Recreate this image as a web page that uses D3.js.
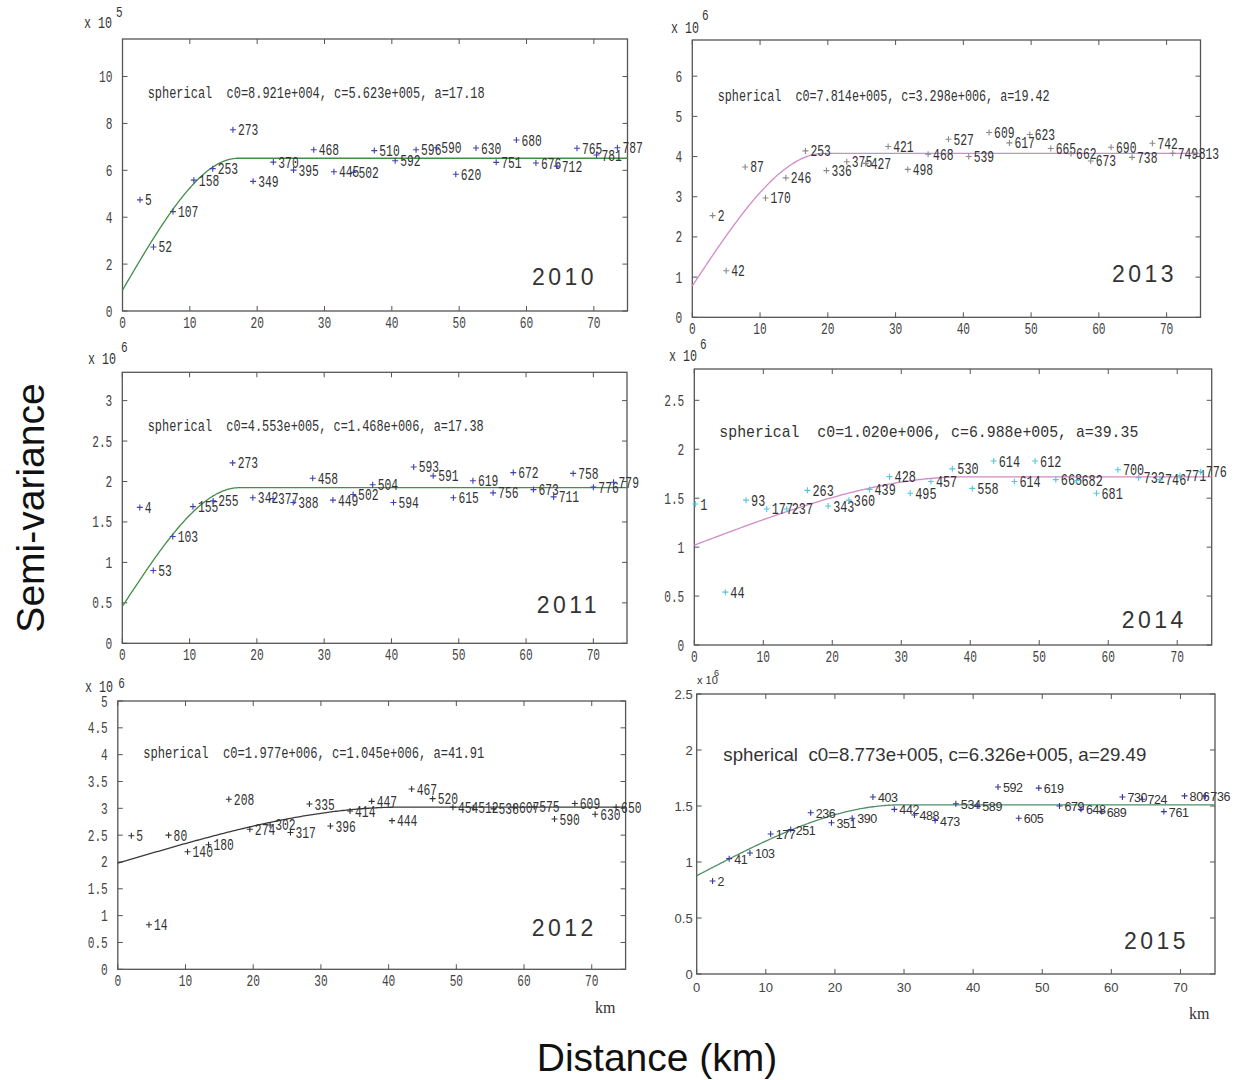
<!DOCTYPE html>
<html>
<head>
<meta charset="utf-8">
<script src="https://cdn.jsdelivr.net/npm/d3@7"></script>
<style>
  body { margin: 0; background: #fff; }
  text { white-space: pre; }
</style>
</head>
<body>
<svg id="chart" width="1241" height="1080"></svg>
<script>
// lag distance (km), semi-variance (in units of the panel's 10^n) and pair counts
var dist2010  = [2.6,4.6,7.5,10.6,13.4,16.4,19.4,22.4,25.4,28.4,31.4,34.3,37.4,40.5,43.6,46.6,49.5,52.5,55.5,58.5,61.4,64.5,67.5,70.4,73.5];
var gamma2010 = [4.74,2.73,4.24,5.58,6.07,7.73,5.53,6.35,6.01,6.88,5.94,5.91,6.84,6.41,6.88,6.96,5.83,6.95,6.34,7.29,6.31,6.18,6.94,6.65,6.96];
var pairs2010 = [5,52,107,158,253,273,349,370,395,468,445,502,510,592,596,590,620,630,751,680,676,712,765,781,787];

var dist2013  = [3.0,5.0,7.8,10.8,13.8,16.7,19.8,22.8,25.6,28.9,31.8,34.8,37.8,40.8,43.8,46.8,49.8,52.9,55.9,58.8,61.8,64.9,67.9,70.9,74.0];
var gamma2013 = [2.53,1.16,3.74,2.97,3.47,4.14,3.65,3.87,3.83,4.25,3.68,4.06,4.43,4.0,4.6,4.34,4.55,4.2,4.07,3.89,4.23,3.98,4.33,4.08,4.08];
var pairs2013 = [2,42,87,170,246,253,336,375,427,421,498,468,527,539,609,617,623,665,662,673,690,738,742,749,813];

var dist2011  = [2.6,4.6,7.5,10.5,13.5,16.4,19.4,22.4,25.4,28.3,31.3,34.3,37.2,40.3,43.3,46.2,49.2,52.1,55.1,58.1,61.1,64.1,67.0,70.0,73.0];
var gamma2011 = [1.68,0.90,1.32,1.69,1.76,2.23,1.80,1.79,1.74,2.04,1.77,1.84,1.96,1.74,2.18,2.07,1.80,2.01,1.86,2.11,1.90,1.81,2.10,1.93,1.99];
var pairs2011 = [4,53,103,155,255,273,342,377,388,458,449,502,504,594,593,591,615,619,756,672,673,711,758,776,779];

var dist2014  = [0.15,4.5,7.5,10.5,13.4,16.4,19.4,22.4,25.4,28.3,31.3,34.3,37.4,40.3,43.4,46.4,49.4,52.4,55.4,58.3,61.4,64.4,67.5,70.4,73.4];
var gamma2014 = [1.44,0.54,1.48,1.39,1.39,1.58,1.42,1.48,1.59,1.72,1.55,1.67,1.80,1.60,1.88,1.67,1.88,1.69,1.68,1.55,1.79,1.71,1.69,1.73,1.77];
var pairs2014 = [1,44,93,177,237,263,343,360,439,428,495,457,530,558,614,614,612,668,682,681,700,732,746,771,776];

var dist2012  = [2.0,4.6,7.5,10.3,13.4,16.4,19.5,22.5,25.5,28.3,31.4,34.3,37.5,40.5,43.4,46.5,49.5,52.5,55.5,58.5,61.5,64.5,67.5,70.5,73.6];
var gamma2012 = [2.49,0.83,2.50,2.19,2.32,3.17,2.61,2.69,2.55,3.08,2.67,2.95,3.13,2.77,3.36,3.18,3.02,3.01,2.99,3.01,3.03,2.80,3.09,2.89,3.02];
var pairs2012 = [5,14,80,140,180,208,274,302,317,335,396,414,447,444,467,520,454,512,538,607,575,590,609,630,650];

var dist2015  = [2.3,4.7,7.7,10.7,13.6,16.5,19.5,22.5,25.5,28.6,31.5,34.5,37.5,40.6,43.6,46.6,49.5,52.5,55.6,58.6,61.6,64.5,67.6,70.6,73.6];
var gamma2015 = [0.83,1.03,1.08,1.25,1.29,1.44,1.35,1.39,1.58,1.47,1.42,1.37,1.52,1.50,1.67,1.39,1.66,1.50,1.47,1.45,1.58,1.56,1.45,1.59,1.59];
var pairs2015 = [2,41,103,177,251,236,351,390,403,442,488,473,534,589,592,605,619,679,648,689,730,724,761,806,736];

// fitted spherical models, panel order: 2010, 2013, 2011, 2014, 2012, 2015
var years    = ["2010","2013","2011","2014","2012","2015"];
var nugget   = [8.921e4, 7.814e5, 4.553e5, 1.020e6, 1.977e6, 8.773e5];
var psill    = [5.623e5, 3.298e6, 1.468e6, 6.988e5, 1.045e6, 6.326e5];
var ranges   = [17.18, 19.42, 17.38, 39.35, 41.91, 29.49];
var expo     = [5, 6, 6, 6, 6, 6];
var xTicks   = [0,10,20,30,40,50,60,70];
var yTicks   = [[0,2,4,6,8,10],[0,1,2,3,4,5,6],[0,0.5,1,1.5,2,2.5,3],[0,0.5,1,1.5,2,2.5],
                [0,0.5,1,1.5,2,2.5,3,3.5,4,4.5,5],[0,0.5,1,1.5,2,2.5]];
var yMax     = [11.6, 6.9, 3.35, 2.82, 5, 2.5];

var dists  = [dist2010, dist2013, dist2011, dist2014, dist2012, dist2015];
var gammas = [gamma2010, gamma2013, gamma2011, gamma2014, gamma2012, gamma2015];
var pairs  = [pairs2010, pairs2013, pairs2011, pairs2014, pairs2012, pairs2015];

var MONO = "'Liberation Mono', 'DejaVu Sans Mono', monospace";
var SANS = "'Liberation Sans', Arial, sans-serif";

// layout of each panel (box = left, top, right, bottom)
var layout = [
  {box:[122.5,39,627.5,311],   pt:"#4040b4", line:"#3f8f47", font:MONO, year:[532,285],    model:[147.7,98.3,337], exp:[84,28.3,116,17]},
  {box:[692.3,40,1200.5,317.3],pt:"#8a8a8a", line:"#d38ac6", font:MONO, year:[1112,282],   model:[717.7,100.7,332], exp:[671,32.7,702,20]},
  {box:[122.3,372.3,627,643.3],pt:"#4040b4", line:"#3f8f47", font:MONO, year:[536.7,612.7],model:[147.7,430.7,336], exp:[88,364,121,352]},
  {box:[694.3,369,1211.7,645], pt:"#55c6dd", line:"#d38ac6", font:MONO, year:[1121.7,628.3],model:[719.3,436.7,419], exp:[669,360.7,700,349]},
  {box:[117.8,701,625.6,969.3],pt:"#333333", line:"#3a3a3a", font:MONO, year:[531.7,935.7],model:[143.3,758.3,341], exp:[85,691.7,118.3,688]},
  {box:[696.7,694,1215,974],   pt:"#36369e", line:"#4f8f6a", font:SANS, year:[1124,949.3], model:[723.3,760.7,423], exp:[697,684,714,676]}
];

var svg = d3.select("#chart");

function fmtE(v){
  var e = Math.floor(Math.log10(v));
  var m = v / Math.pow(10, e);
  var s = String(Math.abs(e)); while(s.length < 3) s = "0" + s;
  return m.toFixed(3) + "e" + (e < 0 ? "-" : "+") + s;
}

function spherical(h, c0, c, a){
  if(h >= a) return c0 + c;
  var r = h / a;
  return c0 + c * (1.5 * r - 0.5 * r * r * r);
}

// condensed text: fixed char width via textLength
function ctext(g, x, y, str, size, cw, fam, fill){
  var t = g.append("text").attr("x", x).attr("y", y)
    .style("font-family", fam).style("font-size", size + "px").style("fill", fill).text(str);
  if(cw) t.attr("textLength", str.length * cw).attr("lengthAdjust", "spacingAndGlyphs");
  return t;
}

layout.forEach(function(L, i){
  var g = svg.append("g");
  var mono = L.font === MONO;
  var x = d3.scaleLinear().domain([0, 75]).range([L.box[0], L.box[2]]);
  var y = d3.scaleLinear().domain([0, yMax[i]]).range([L.box[3], L.box[1]]);
  var scale = Math.pow(10, expo[i]);

  // box
  g.append("rect").attr("x", L.box[0]).attr("y", L.box[1])
    .attr("width", L.box[2]-L.box[0]).attr("height", L.box[3]-L.box[1])
    .attr("fill", "none").attr("stroke", "#555").attr("stroke-width", 1.3);

  // inward ticks on all four sides
  var tk = 5;
  xTicks.forEach(function(v){
    g.append("line").attr("x1", x(v)).attr("x2", x(v)).attr("y1", L.box[3]).attr("y2", L.box[3]-tk).attr("stroke", "#555");
    g.append("line").attr("x1", x(v)).attr("x2", x(v)).attr("y1", L.box[1]).attr("y2", L.box[1]+tk).attr("stroke", "#555");
    if(mono) ctext(g, x(v), L.box[3]+17, String(v), 16, 6.7, MONO, "#444").attr("text-anchor", "middle");
    else ctext(g, x(v), L.box[3]+18, String(v), 13, 0, SANS, "#444").attr("text-anchor", "middle");
  });
  yTicks[i].forEach(function(v){
    g.append("line").attr("x1", L.box[0]).attr("x2", L.box[0]+tk).attr("y1", y(v)).attr("y2", y(v)).attr("stroke", "#555");
    g.append("line").attr("x1", L.box[2]).attr("x2", L.box[2]-tk).attr("y1", y(v)).attr("y2", y(v)).attr("stroke", "#555");
    if(mono) ctext(g, L.box[0]-10, y(v)+5.5, String(v), 16, 6.7, MONO, "#444").attr("text-anchor", "end");
    else ctext(g, L.box[0]-4, y(v)+5, String(v), 13, 0, SANS, "#444").attr("text-anchor", "end");
  });

  // exponent label
  if(mono){
    ctext(g, L.exp[0], L.exp[1], "x 10", 16, 7, MONO, "#333");
    ctext(g, L.exp[2], L.exp[3], String(expo[i]), 14, 6.6, MONO, "#333");
  } else {
    ctext(g, L.exp[0], L.exp[1], "x 10", 11, 0, SANS, "#333");
    ctext(g, L.exp[2], L.exp[3], String(expo[i]), 9, 0, SANS, "#333");
  }

  // model curve
  var hs = d3.range(0, 75.01, 0.25);
  var line = d3.line().x(function(h){ return x(h); })
    .y(function(h){ return y(spherical(h, nugget[i], psill[i], ranges[i]) / scale); });
  g.append("path").datum(hs).attr("d", line)
    .attr("fill", "none").attr("stroke", L.line).attr("stroke-width", 1.3);

  // experimental points with pair counts
  var pts = dists[i].map(function(d, j){ return {h: d, v: gammas[i][j], n: pairs[i][j]}; });
  var pg = g.selectAll("g.pt").data(pts).enter().append("g").attr("class", "pt")
    .attr("transform", function(d){ return "translate(" + x(d.h) + "," + y(d.v) + ")"; });
  pg.append("path").attr("d", "M-3,0H3M0,-3V3").attr("stroke", L.pt).attr("stroke-width", 1.1);
  pg.each(function(d){
    var s = d3.select(this);
    if(mono) ctext(s, 5, 5.5, String(d.n), i === 3 ? 16.5 : 16, i === 3 ? 7.1 : 6.8, MONO, "#333");
    else ctext(s, 5, 5, String(d.n), 12.5, 0, SANS, "#333").style("letter-spacing", "-0.4px");
  });

  // model text
  var mt = "spherical  c0=" + fmtE(nugget[i]) + ", c=" + fmtE(psill[i]) + ", a=" + ranges[i].toFixed(2);
  var t = g.append("text").attr("x", L.model[0]).attr("y", L.model[1])
    .attr("textLength", L.model[2]).attr("lengthAdjust", "spacingAndGlyphs")
    .style("fill", "#333").text(mt);
  if(mono) t.style("font-family", MONO).style("font-size", i === 3 ? "17px" : "16px");
  else t.style("font-family", SANS).style("font-size", "18.5px");

  // year
  g.append("text").attr("x", L.year[0]).attr("y", L.year[1])
    .style("font-family", SANS).style("font-size", "23px").style("letter-spacing", "3.5px")
    .style("fill", "#333").text(years[i]);
});

// km labels under bottom panels
svg.append("text").attr("x", 595).attr("y", 1013).style("font-family", "'Liberation Serif', serif")
  .style("font-size", "16px").style("fill", "#333").text("km");
svg.append("text").attr("x", 1189).attr("y", 1019).style("font-family", "'Liberation Serif', serif")
  .style("font-size", "16px").style("fill", "#333").text("km");

// axis titles
svg.append("text").attr("transform", "translate(44,508) rotate(-90)").attr("text-anchor", "middle")
  .style("font-family", SANS).style("font-size", "39px").style("fill", "#111").text("Semi-variance");
svg.append("text").attr("x", 657).attr("y", 1071).attr("text-anchor", "middle")
  .style("font-family", SANS).style("font-size", "39px").style("fill", "#111").text("Distance (km)");
</script>
</body>
</html>
